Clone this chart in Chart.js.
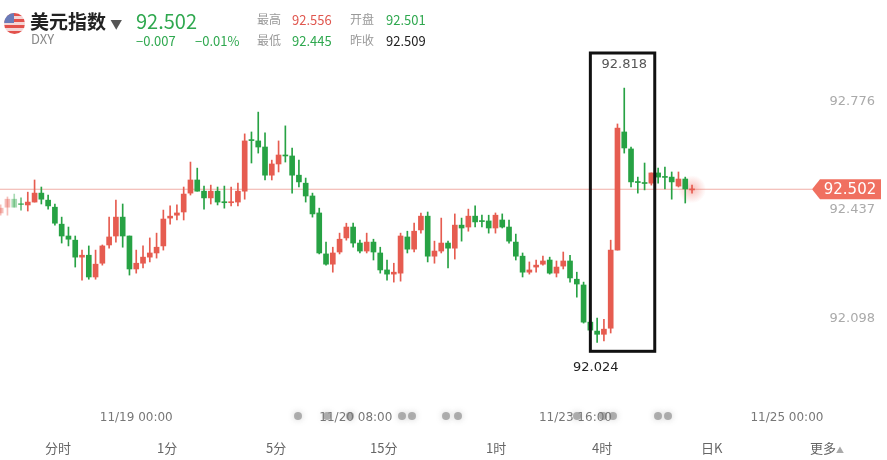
<!DOCTYPE html>
<html>
<head>
<meta charset="utf-8">
<script src="https://cdn.jsdelivr.net/npm/chart.js@4"></script>
<style>
  body { margin: 0; width: 887px; height: 460px; overflow: hidden; background: #fff;
         font-family: "Noto Sans CJK SC", "Noto Sans", sans-serif; }
  #wrap { position: relative; width: 887px; height: 460px; }
  canvas { position: absolute; left: 0; top: 0; }
  .t { position: absolute; white-space: nowrap; line-height: 1; }
  .g { color: #2fa84f; }
  .r { color: #e0574f; }
  .k { color: #999; }
  .flag { position: absolute; left: 4px; top: 13px; width: 21px; height: 21px; border-radius: 50%;
          background: repeating-linear-gradient(180deg, #e2514c 0 3px, #f4d6d6 3px 6px); overflow: hidden; }
  .flag::before { content: ""; position: absolute; left: 0; top: 0; width: 10px; height: 10px; background: #6a7bb8; }
  .tab { position: absolute; top: 438px; font-size: 13px; color: #666; }
</style>
</head>
<body>
<div id="wrap">
  <canvas id="c" width="887" height="460"></canvas>
  <div class="flag"></div>
  <div class="t" style="left:30px;top:11px;font-size:19px;font-weight:bold;color:#222">美元指数 <span style="font-size:12px;color:#555">▼</span></div>
  <div class="t" style="left:31px;top:32px;font-size:13px;color:#888">DXY</div>
  <div class="t g" style="left:136px;top:11px;font-size:20px">92.502</div>
  <div class="t g" style="left:136px;top:34px;font-size:13px">−0.007</div>
  <div class="t g" style="left:195px;top:34px;font-size:13px">−0.01%</div>
  <div class="t k" style="left:257px;top:13px;font-size:12px">最高</div>
  <div class="t r" style="left:292px;top:13px;font-size:13px">92.556</div>
  <div class="t k" style="left:350px;top:13px;font-size:12px">开盘</div>
  <div class="t g" style="left:386px;top:13px;font-size:13px">92.501</div>
  <div class="t k" style="left:257px;top:34px;font-size:12px">最低</div>
  <div class="t g" style="left:292px;top:34px;font-size:13px">92.445</div>
  <div class="t k" style="left:350px;top:34px;font-size:12px">昨收</div>
  <div class="t" style="left:386px;top:34px;font-size:13px;color:#222">92.509</div>
  <div class="tab" style="left:45px">分时</div>
  <div class="tab" style="left:157px">1分</div>
  <div class="tab" style="left:266px">5分</div>
  <div class="tab" style="left:370px">15分</div>
  <div class="tab" style="left:486px">1时</div>
  <div class="tab" style="left:592px">4时</div>
  <div class="tab" style="left:701px">日K</div>
  <div class="tab" style="left:810px">更多<span style="font-size:8px;color:#aaa">▲</span></div>
</div>
<script>
const opens = [92.428,92.446,92.471,92.456,92.453,92.462,92.490,92.468,92.446,92.393,
  92.356,92.343,92.290,92.296,92.228,92.271,92.328,92.356,92.415,92.356,
  92.253,92.271,92.290,92.303,92.325,92.412,92.421,92.431,92.490,92.531,
  92.496,92.475,92.496,92.462,92.460,92.462,92.496,92.656,92.653,92.634,
  92.546,92.581,92.609,92.606,92.546,92.521,92.481,92.428,92.300,92.268,
  92.306,92.350,92.384,92.334,92.309,92.337,92.303,92.250,92.237,92.240,
  92.353,92.315,92.375,92.418,92.293,92.309,92.334,92.318,92.390,92.384,
  92.418,92.403,92.403,92.381,92.406,92.384,92.337,92.293,92.243,92.259,
  92.268,92.281,92.240,92.262,92.278,92.221,92.203,92.087,92.059,92.049,
  92.068,92.312,92.681,92.628,92.525,92.521,92.521,92.553,92.540,92.540,
  92.512,92.534,92.500];
const highs = [92.453,92.478,92.487,92.475,92.493,92.531,92.509,92.484,92.456,92.415,
  92.384,92.356,92.312,92.325,92.312,92.328,92.415,92.468,92.456,92.356,
  92.312,92.325,92.350,92.365,92.437,92.450,92.453,92.509,92.587,92.568,
  92.512,92.515,92.509,92.512,92.509,92.521,92.675,92.681,92.743,92.678,
  92.593,92.653,92.700,92.631,92.593,92.537,92.490,92.443,92.337,92.321,
  92.365,92.396,92.396,92.343,92.365,92.346,92.321,92.281,92.271,92.365,
  92.371,92.396,92.428,92.431,92.340,92.412,92.340,92.425,92.412,92.440,
  92.450,92.421,92.421,92.428,92.425,92.406,92.362,92.303,92.275,92.281,
  92.293,92.290,92.278,92.306,92.296,92.243,92.212,92.115,92.100,92.096,
  92.343,92.706,92.818,92.634,92.540,92.584,92.553,92.568,92.571,92.556,
  92.556,92.540,92.515];
const lows = [92.421,92.421,92.446,92.437,92.434,92.462,92.456,92.440,92.390,92.334,
  92.325,92.259,92.218,92.221,92.221,92.265,92.318,92.337,92.321,92.234,
  92.240,92.256,92.275,92.287,92.312,92.393,92.406,92.406,92.484,92.496,
  92.440,92.456,92.453,92.443,92.450,92.450,92.471,92.584,92.615,92.531,
  92.531,92.556,92.587,92.490,92.509,92.462,92.415,92.300,92.265,92.243,
  92.300,92.343,92.321,92.303,92.303,92.281,92.240,92.218,92.212,92.215,
  92.303,92.306,92.365,92.275,92.271,92.303,92.256,92.284,92.340,92.371,
  92.384,92.384,92.365,92.365,92.381,92.334,92.281,92.228,92.237,92.243,
  92.265,92.237,92.228,92.253,92.212,92.165,92.084,92.053,92.024,92.028,
  92.053,92.312,92.615,92.509,92.490,92.500,92.515,92.521,92.503,92.471,
  92.509,92.459,92.490];
const closes = [92.443,92.471,92.446,92.454,92.462,92.490,92.471,92.450,92.396,92.356,
  92.346,92.290,92.296,92.228,92.268,92.325,92.353,92.415,92.356,92.253,
  92.271,92.290,92.303,92.321,92.409,92.418,92.428,92.487,92.531,92.496,
  92.475,92.496,92.462,92.460,92.462,92.496,92.653,92.654,92.634,92.546,
  92.581,92.609,92.606,92.546,92.525,92.481,92.425,92.303,92.268,92.303,
  92.346,92.384,92.334,92.309,92.337,92.306,92.250,92.237,92.243,92.356,
  92.315,92.371,92.418,92.293,92.309,92.334,92.318,92.390,92.381,92.418,
  92.400,92.401,92.381,92.421,92.384,92.340,92.293,92.243,92.250,92.265,
  92.278,92.240,92.259,92.278,92.225,92.206,92.087,92.062,92.049,92.065,
  92.312,92.693,92.631,92.525,92.523,92.520,92.553,92.540,92.539,92.525,
  92.534,92.503,92.502];

const lastPrice = 92.502;
const priceTicks = [92.098, 92.437, 92.776];
const dateLabels = ["11/19 00:00", "11/20 08:00", "11/23 16:00", "11/25 00:00"];
const dateIndex = [20, 52.4, 84.8, 116];
const boxHigh = 92.818, boxLow = 92.024;
const boxFrom = 87, boxTo = 96.5;

const fade = i => i < 3 ? 0.4 : (i < 4 ? 0.7 : 1);
const colorOf = i => {
  const c = closes[i] >= opens[i] ? [230, 92, 80] : [39, 162, 68];
  return `rgba(${c[0]},${c[1]},${c[2]},${fade(i)})`;
};
const colors = opens.map((_, i) => colorOf(i));

const wicks = opens.map((_, i) => ({ x: i, y: [lows[i], highs[i]] }));
const bodies = opens.map((_, i) => ({ x: i, y: [Math.min(opens[i], closes[i]), Math.max(opens[i], closes[i])] }));

const overlay = {
  id: "overlay",
  beforeDatasetsDraw(chart) {
    const { ctx, scales: { x, y }, chartArea } = chart;
    const py = y.getPixelForValue(lastPrice);
    ctx.save();
    ctx.strokeStyle = "rgba(230,120,110,0.6)";
    ctx.lineWidth = 1;
    ctx.beginPath();
    ctx.moveTo(chartArea.left, py);
    ctx.lineTo(chartArea.right, py);
    ctx.stroke();
    // glow at last candle
    const lx = x.getPixelForValue(opens.length - 1);
    const g = ctx.createRadialGradient(lx, py, 0, lx, py, 14);
    g.addColorStop(0, "rgba(240,110,100,0.45)");
    g.addColorStop(1, "rgba(240,110,100,0)");
    ctx.fillStyle = g;
    ctx.beginPath(); ctx.arc(lx, py, 14, 0, Math.PI * 2); ctx.fill();
    ctx.restore();
  },
  afterDraw(chart) {
    const { ctx, scales: { x, y }, chartArea } = chart;
    ctx.save();
    // box
    const bx0 = x.getPixelForValue(boxFrom), bx1 = x.getPixelForValue(boxTo);
    const by0 = chartArea.top + 3, by1 = y.getPixelForValue(boxLow) + 9;
    ctx.strokeStyle = "#111";
    ctx.lineWidth = 3;
    ctx.strokeRect(bx0, by0, bx1 - bx0, by1 - by0);
    ctx.font = "13px 'DejaVu Sans', sans-serif";
    ctx.textAlign = "center";
    ctx.textBaseline = "middle";
    ctx.fillStyle = "#555";
    ctx.fillText(boxHigh.toFixed(3), x.getPixelForValue(92), y.getPixelForValue(boxHigh) - 23);
    ctx.fillStyle = "#222";
    ctx.fillText(boxLow.toFixed(3), x.getPixelForValue(87.8), y.getPixelForValue(boxLow) + 25);
    // price axis labels
    ctx.textAlign = "right";
    ctx.fillStyle = "#aaa";
    priceTicks.forEach(v => ctx.fillText(v.toFixed(3), 875, y.getPixelForValue(v)));
    // price tag
    const py = y.getPixelForValue(lastPrice);
    ctx.fillStyle = "#f07060";
    ctx.beginPath();
    ctx.moveTo(812, py);
    ctx.lineTo(820, py - 10);
    ctx.lineTo(881, py - 10);
    ctx.lineTo(881, py + 10);
    ctx.lineTo(820, py + 10);
    ctx.closePath();
    ctx.fill();
    ctx.fillStyle = "#fff";
    ctx.font = "15px 'DejaVu Sans', sans-serif";
    ctx.textAlign = "center";
    ctx.fillText(lastPrice.toFixed(3), 850, py + 1);
    // event markers
    ctx.fillStyle = "rgba(120,120,120,0.55)";
    ctx.shadowColor = "rgba(120,120,120,0.6)";
    ctx.shadowBlur = 6;
    [298, 327, 350, 402, 412, 446, 458, 577, 603, 613, 658, 668].forEach(px => {
      ctx.beginPath(); ctx.arc(px, 416, 4, 0, Math.PI * 2); ctx.fill();
    });
    ctx.shadowBlur = 0;
    // dates
    ctx.fillStyle = "#777";
    ctx.font = "12px 'DejaVu Sans', sans-serif";
    dateLabels.forEach((d, i) => ctx.fillText(d, x.getPixelForValue(dateIndex[i]), 418));
    ctx.restore();
  }
};

new Chart(document.getElementById("c"), {
  type: "bar",
  data: {
    datasets: [
      { data: wicks, backgroundColor: colors, barThickness: 1, grouped: false, order: 2 },
      { data: bodies, backgroundColor: colors, barThickness: 5, grouped: false, minBarLength: 1, order: 1 }
    ]
  },
  options: {
    responsive: false,
    animation: false,
    layout: { padding: { top: 50, right: 75, bottom: 70, left: 0 } },
    plugins: { legend: { display: false }, tooltip: { enabled: false } },
    scales: {
      x: { type: "linear", min: -0.1, max: 119.7, display: false, offset: false },
      y: { min: 91.875, max: 92.937, display: false }
    }
  },
  plugins: [overlay]
});
</script>
</body>
</html>
